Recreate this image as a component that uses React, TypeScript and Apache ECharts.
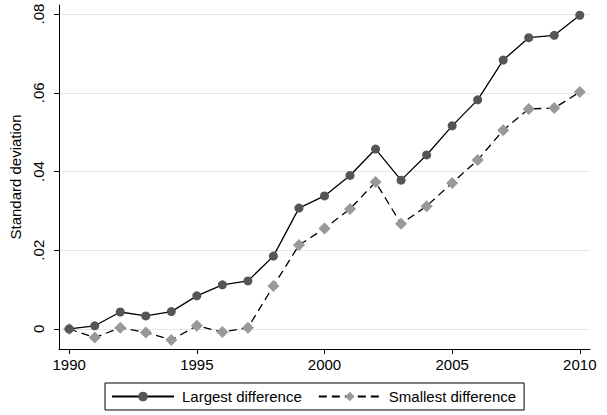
import React, { useEffect, useRef } from "react";
import * as echarts from "echarts";

const years = [1990, 1991, 1992, 1993, 1994, 1995, 1996, 1997, 1998, 1999, 2000, 2001, 2002, 2003, 2004, 2005, 2006, 2007, 2008, 2009, 2010];
const largest = [0, 0.0008, 0.0043, 0.0033, 0.0044, 0.0084, 0.0112, 0.0122, 0.0185, 0.0307, 0.0338, 0.039, 0.0457, 0.0378, 0.0442, 0.0516, 0.0582, 0.0683, 0.074, 0.0746, 0.0797];
const smallest = [0, -0.0022, 0.0003, -0.0009, -0.0028, 0.0008, -0.0008, 0.0003, 0.0109, 0.0213, 0.0255, 0.0305, 0.0373, 0.0267, 0.0312, 0.0371, 0.0429, 0.0505, 0.0559, 0.0561, 0.0602];
const xTicks = [1990, 1995, 2000, 2005, 2010];
const yTicks = [0, 0.02, 0.04, 0.06, 0.08];

const FONT = "Liberation Sans, Arial, Helvetica, sans-serif";

export default function App() {
  const ref = useRef<HTMLDivElement>(null);
  useEffect(() => {
    if (!ref.current) return;
    const chart = echarts.init(ref.current, undefined, { renderer: "svg" });
    chart.setOption({
      animation: false,
      backgroundColor: "#ffffff",
      textStyle: { fontFamily: FONT },
      grid: { left: 54, right: 17, top: 5, bottom: 66, containLabel: false },
      xAxis: {
        type: "value",
        min: 1989.6,
        max: 2010.4,
        axisLine: { show: true, onZero: false, lineStyle: { color: "#000", width: 1 } },
        axisTick: { show: true, inside: false, length: 5, lineStyle: { color: "#000", width: 1 }, customValues: xTicks },
        axisLabel: {
          customValues: xTicks,
          color: "#000",
          fontSize: 15,
          margin: 8,
          fontFamily: FONT,
          formatter: (v: number) => String(Math.round(v)),
        },
        splitLine: { show: false },
      },
      yAxis: {
        type: "value",
        min: -0.0051,
        max: 0.0823,
        name: "Standard deviation",
        nameLocation: "middle",
        nameGap: 36,
        nameRotate: 90,
        nameTextStyle: { color: "#000", fontSize: 15, fontFamily: FONT },
        axisLine: { show: true, onZero: false, lineStyle: { color: "#000", width: 1 } },
        axisTick: { show: true, inside: false, length: 5, lineStyle: { color: "#000", width: 1 }, customValues: yTicks },
        axisLabel: {
          customValues: yTicks,
          rotate: 90,
          color: "#000",
          fontSize: 15,
          margin: 13,
          fontFamily: FONT,
          formatter: (v: number) => (Math.abs(v) < 1e-9 ? "0" : v.toFixed(2).replace(/^0/, "")),
        },
        splitLine: { show: false },
      },
      legend: {
        left: 105,
        top: 383,
        width: 434,
        orient: "horizontal",
        borderColor: "#000",
        borderWidth: 1,
        padding: [6, 8, 6, 6],
        itemWidth: 62,
        itemHeight: 12,
        itemGap: 16,
        textStyle: { color: "#000", fontSize: 15, fontFamily: FONT, padding: [0, 0, 0, 3] },
        data: ["Largest difference", "Smallest difference"],
      },
      series: [
        {
          name: "Largest difference",
          type: "line",
          data: years.map((y, i) => [y, largest[i]]),
          symbol: "circle",
          symbolSize: 9,
          itemStyle: { color: "#555555" },
          lineStyle: { color: "#000", width: 1.3 },
          markLine: {
            silent: true,
            symbol: "none",
            label: { show: false },
            lineStyle: { color: "#e6e6e6", width: 1, type: "solid" },
            data: yTicks.map((v) => ({ yAxis: v })),
            z: 0,
          },
          z: 3,
        },
        {
          name: "Smallest difference",
          type: "line",
          data: years.map((y, i) => [y, smallest[i]]),
          symbol: "diamond",
          symbolSize: 12,
          itemStyle: { color: "#999999" },
          lineStyle: { color: "#000", width: 1.3, type: [8, 5] },
          z: 2,
        },
      ],
    });
    return () => chart.dispose();
  }, []);
  return <div ref={ref} style={{ width: 607, height: 415, position: "absolute", left: 0, top: 0 }} />;
}
